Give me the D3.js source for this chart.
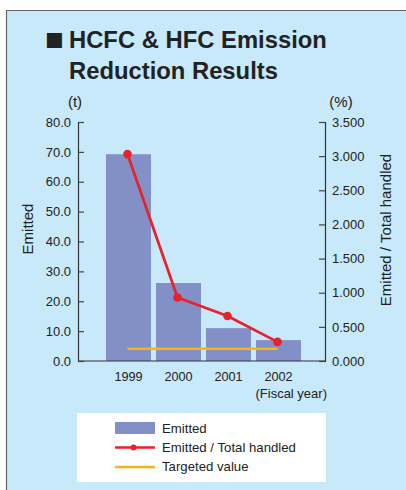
<!DOCTYPE html>
<html><head><meta charset="utf-8">
<script src="https://cdn.jsdelivr.net/npm/d3@7/dist/d3.min.js"></script>
<style>body{margin:0;background:#fff}svg{display:block}text{font-family:"Liberation Sans",Arial,sans-serif;fill:#222}</style>
</head><body><svg id="c" width="406" height="490"></svg>
<script>
const years = ["1999","2000","2001","2002"];
const emitted = [69.2, 26.1, 11.0, 7.0];
const ratio = [3.03, 0.93, 0.66, 0.28];
const target = [0.18, 0.18, 0.18, 0.18];
const leftTicks = [0,10,20,30,40,50,60,70,80];
const rightTicks = [0,0.5,1,1.5,2,2.5,3,3.5];

const svg = d3.select("#c");
svg.append("rect").attr("x",6.5).attr("y",10.5).attr("width",410).attr("height",490).attr("fill","#c7e9f9");
svg.append("path").attr("d","M6.5,490V10.5H406").attr("fill","none").attr("stroke","#666").attr("stroke-width",1.2);

svg.append("text").attr("x",45).attr("y",50).attr("font-size",31).attr("font-family","DejaVu Sans").text("■");
svg.append("text").attr("x",69).attr("y",48).attr("font-size",23.8).attr("font-weight","bold").text("HCFC & HFC Emission");
svg.append("text").attr("x",69).attr("y",79).attr("font-size",23.8).attr("font-weight","bold").text("Reduction Results");

const x = d3.scaleBand().domain(years).range([103.5,303.5]).paddingInner(0.1).paddingOuter(0.05);
const yL = d3.scaleLinear().domain([0,80]).range([361,122]);
const yR = d3.scaleLinear().domain([0,3.5]).range([361,122]);

svg.append("g").selectAll("rect").data(years).join("rect")
  .attr("x",d=>x(d)).attr("width",x.bandwidth())
  .attr("y",(d,i)=>yL(emitted[i])).attr("height",(d,i)=>361-yL(emitted[i]))
  .attr("fill","#8290c7");

svg.append("line").attr("x1",78).attr("x2",325).attr("y1",361).attr("y2",361).attr("stroke","#333").attr("stroke-width",1.2);

const gl = svg.append("g").attr("transform","translate(78,0)")
  .call(d3.axisLeft(yL).tickValues(leftTicks).tickFormat(d3.format(".1f")).tickSize(-6).tickPadding(7));
const gr = svg.append("g").attr("transform","translate(325,0)")
  .call(d3.axisRight(yR).tickValues(rightTicks).tickFormat(d3.format(".3f")).tickSize(-6).tickPadding(7));
[gl,gr].forEach(g=>{
  g.select(".domain").attr("stroke","#333").attr("stroke-width",1.2);
  g.selectAll(".tick line").attr("stroke","#444").attr("stroke-width",1.2);
  g.selectAll(".tick text").attr("font-size",13).attr("font-family","Liberation Sans, Arial, sans-serif").attr("fill","#222");
});

const cx = d => x(d)+x.bandwidth()/2 - 1;
svg.append("path").datum(years)
  .attr("d",d3.line().x(d=>cx(d)).y((d,i)=>yR(target[i])))
  .attr("fill","none").attr("stroke","#f5b514").attr("stroke-width",2.5);
svg.append("path").datum(years)
  .attr("d",d3.line().x(d=>cx(d)).y((d,i)=>yR(ratio[i])))
  .attr("fill","none").attr("stroke","#e8212b").attr("stroke-width",2.8);
svg.append("g").selectAll("circle").data(years).join("circle")
  .attr("cx",d=>cx(d)).attr("cy",(d,i)=>yR(ratio[i])).attr("r",4.3).attr("fill","#e8212b");

svg.append("g").selectAll("text").data(years).join("text")
  .attr("x",d=>x(d)+x.bandwidth()/2).attr("y",381).attr("text-anchor","middle").attr("font-size",12.7).text(d=>d);
svg.append("text").attr("x",327).attr("y",398).attr("text-anchor","end").attr("font-size",13).text("(Fiscal year)");

svg.append("text").attr("x",75).attr("y",107).attr("text-anchor","middle").attr("font-size",15).text("(t)");
svg.append("text").attr("x",341).attr("y",107).attr("text-anchor","middle").attr("font-size",15).text("(%)");

svg.append("text").attr("transform","translate(33,229) rotate(-90)").attr("text-anchor","middle").attr("font-size",15).text("Emitted");
svg.append("text").attr("transform","translate(391,230) rotate(-90)").attr("text-anchor","middle").attr("font-size",15).text("Emitted / Total handled");

svg.append("rect").attr("x",77).attr("y",413).attr("width",249).attr("height",69).attr("fill","#fff");
const lg = svg.append("g");
lg.append("rect").attr("x",115).attr("y",422).attr("width",40).attr("height",12).attr("fill","#8290c7");
lg.append("text").attr("x",162).attr("y",433).attr("font-size",13.2).text("Emitted");
lg.append("line").attr("x1",115).attr("x2",155).attr("y1",447.5).attr("y2",447.5).attr("stroke","#e8212b").attr("stroke-width",2.5);
lg.append("circle").attr("cx",133.5).attr("cy",447.5).attr("r",3).attr("fill","#e8212b");
lg.append("text").attr("x",162).attr("y",452).attr("font-size",13.2).text("Emitted / Total handled");
lg.append("line").attr("x1",115).attr("x2",155).attr("y1",467).attr("y2",467).attr("stroke","#f5b514").attr("stroke-width",2.5);
lg.append("text").attr("x",162).attr("y",471).attr("font-size",13.2).text("Targeted value");
</script></body></html>
